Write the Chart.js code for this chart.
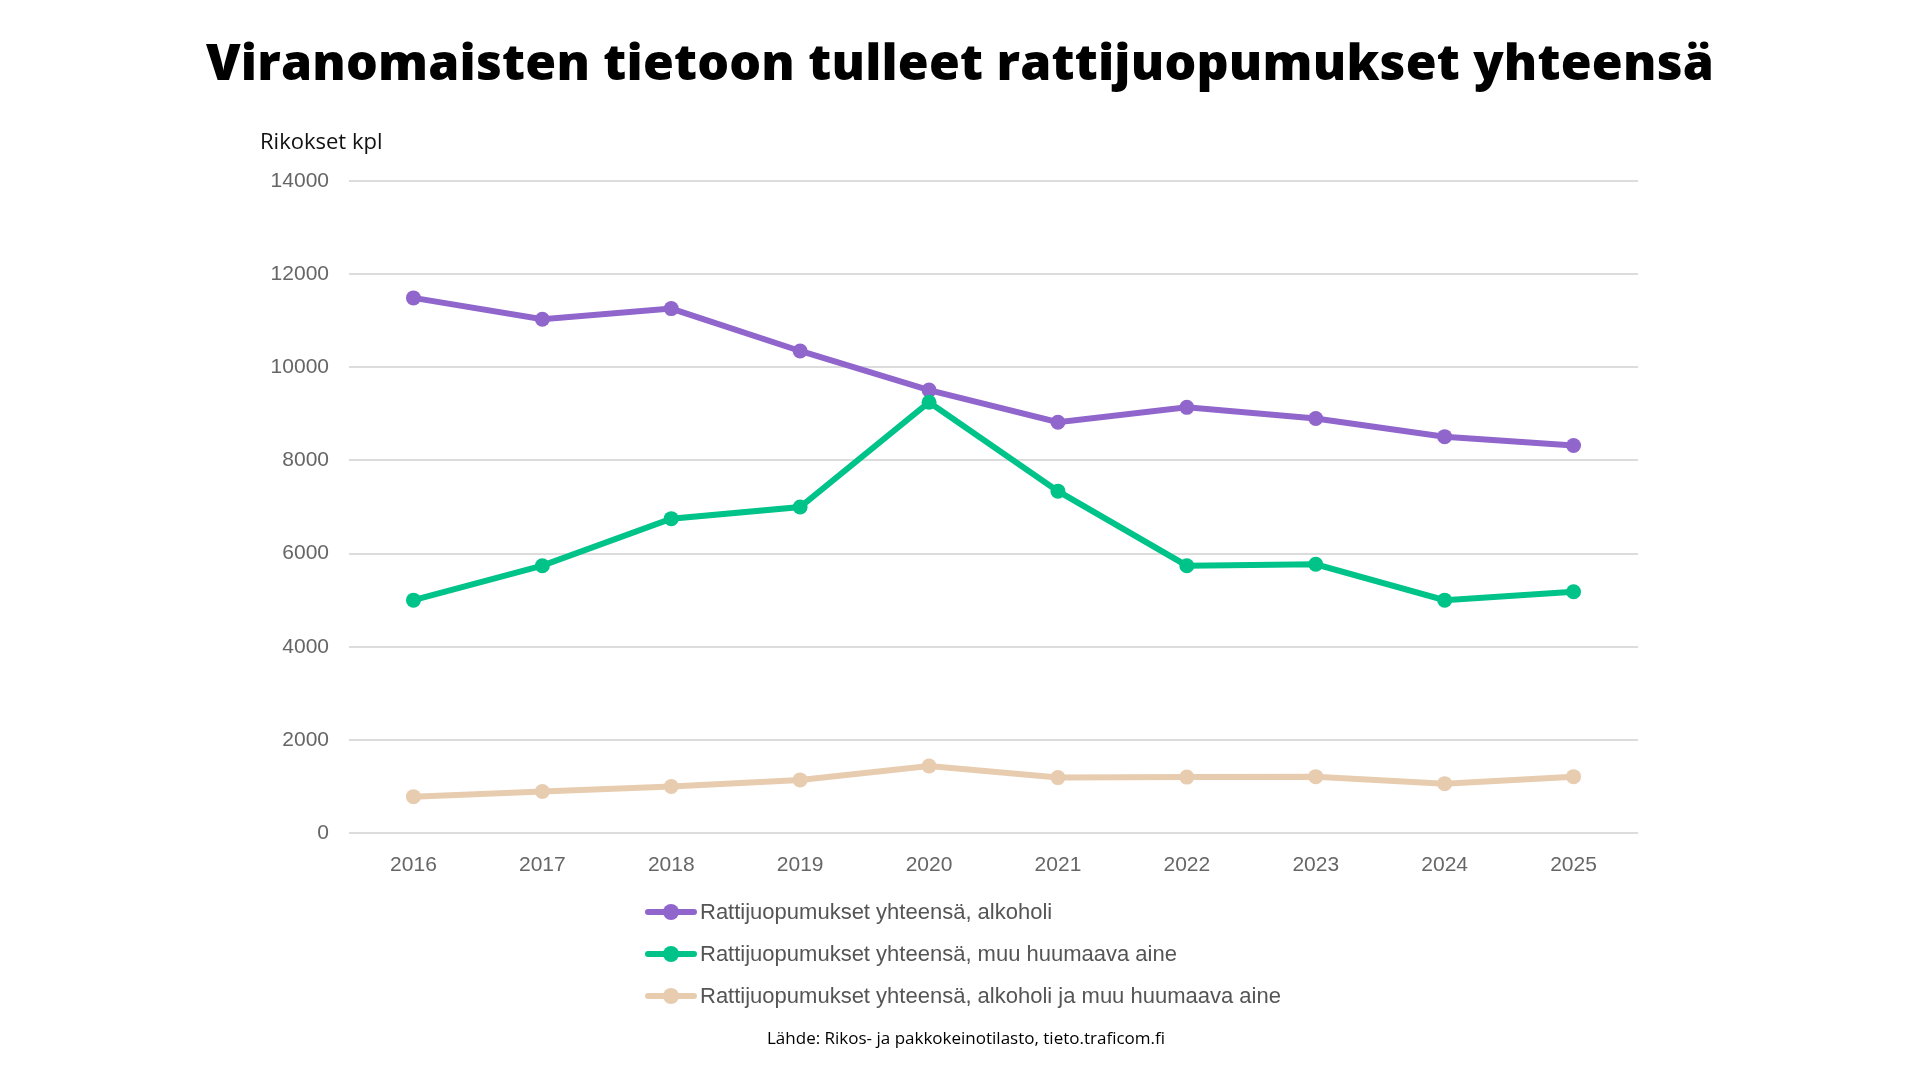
<!DOCTYPE html>
<html lang="fi">
<head>
<meta charset="utf-8">
<title>Rattijuopumukset</title>
<script src="https://cdn.jsdelivr.net/npm/chart.js@4/dist/chart.umd.min.js"></script>
<style>
  html, body { margin: 0; padding: 0; background: #fff; }
  #wrap { position: relative; width: 1920px; height: 1080px; overflow: hidden; }
  #chart { position: absolute; left: 0; top: 0; }
  #title {
    position: absolute; left: 0; width: 1920px; top: 27px; text-align: center;
    font-family: "Open Sans", sans-serif; font-weight: 800; font-size: 50px; color: #000;
    letter-spacing: 0.2px;
  }
  #yLabel {
    position: absolute; left: 260px; top: 125px;
    font-family: "Open Sans", sans-serif; font-size: 22px; color: #111;
  }
  #legend { position: absolute; left: 645px; top: 891px; }
  .item { display: flex; align-items: center; height: 42px; }
  .mark { position: relative; width: 52px; height: 16px; margin-right: 3px; }
  .mark .bar { position: absolute; left: 0; right: 0; top: 5px; height: 6px; border-radius: 3px; }
  .mark .dot { position: absolute; left: 18px; top: 0; width: 16px; height: 16px; border-radius: 50%; }
  .item span { font-family: "Liberation Sans", Arial, sans-serif; font-size: 22px; color: #555; }
  #source {
    position: absolute; left: 0; width: 1932px; top: 1026px; text-align: center;
    font-family: "Open Sans", sans-serif; font-size: 17px; color: #000;
  }
</style>
</head>
<body>
<div id="wrap">
  <canvas id="chart" width="1920" height="1080"></canvas>
  <div id="title">Viranomaisten tietoon tulleet rattijuopumukset yhteensä</div>
  <div id="yLabel">Rikokset kpl</div>
  <div id="legend"></div>
  <div id="source">Lähde: Rikos- ja pakkokeinotilasto, tieto.traficom.fi</div>
</div>
<script>
// vuodet ja sarjat (luettu kuvasta)
const years = ['2016', '2017', '2018', '2019', '2020', '2021', '2022', '2023', '2024', '2025'];
const alkoholi = [11490, 11030, 11260, 10350, 9510, 8820, 9140, 8900, 8510, 8320];
const muuAine = [5000, 5740, 6750, 7000, 9250, 7340, 5740, 5770, 5000, 5180];
const molemmat = [780, 890, 1000, 1140, 1440, 1190, 1200, 1210, 1060, 1210];
const seriesNames = [
    'Rattijuopumukset yhteensä, alkoholi',
    'Rattijuopumukset yhteensä, muu huumaava aine',
    'Rattijuopumukset yhteensä, alkoholi ja muu huumaava aine'
];
const seriesColors = ['#9166cc', '#00c389', '#e8ccb0'];
const yMax = 14000;
const yStep = 2000;

const seriesData = [alkoholi, muuAine, molemmat];

const ctx = document.getElementById('chart').getContext('2d');
const chart = new Chart(ctx, {
    type: 'line',
    data: {
        labels: years,
        datasets: seriesData.map((d, i) => ({
            label: seriesNames[i],
            data: d,
            borderColor: seriesColors[i],
            backgroundColor: seriesColors[i],
            borderWidth: 6,
            pointRadius: 7.5,
            pointBorderWidth: 0,
            tension: 0,
            order: i === 1 ? 0 : i + 1
        }))
    },
    options: {
        responsive: false,
        animation: false,
        devicePixelRatio: 1,
        layout: { padding: { left: 259, right: 282, top: 181, bottom: 187 } },
        plugins: {
            legend: { display: false },
            tooltip: { enabled: false }
        },
        scales: {
            x: {
                offset: true,
                grid: { display: false },
                border: { display: false },
                ticks: {
                    color: '#666',
                    padding: 12,
                    font: { family: '"Liberation Sans", Arial, sans-serif', size: 21 }
                },
                afterFit: s => { s.height = 60; }
            },
            y: {
                min: 0,
                max: yMax,
                ticks: {
                    stepSize: yStep,
                    color: '#666',
                    padding: 20,
                    callback: v => String(v),
                    font: { family: '"Liberation Sans", Arial, sans-serif', size: 21 }
                },
                grid: { color: '#dcdcdc', lineWidth: 2, drawTicks: false },
                border: { display: false },
                afterFit: s => { s.width = 90; }
            }
        }
    }
});

// selite rivi kerrallaan
const legend = document.getElementById('legend');
chart.data.datasets.forEach(ds => {
    const item = document.createElement('div');
    item.className = 'item';
    item.innerHTML = '<div class="mark"><div class="bar"></div><div class="dot"></div></div><span></span>';
    item.querySelector('.bar').style.background = ds.borderColor;
    item.querySelector('.dot').style.background = ds.borderColor;
    item.querySelector('span').textContent = ds.label;
    legend.appendChild(item);
});
</script>
</body>
</html>
